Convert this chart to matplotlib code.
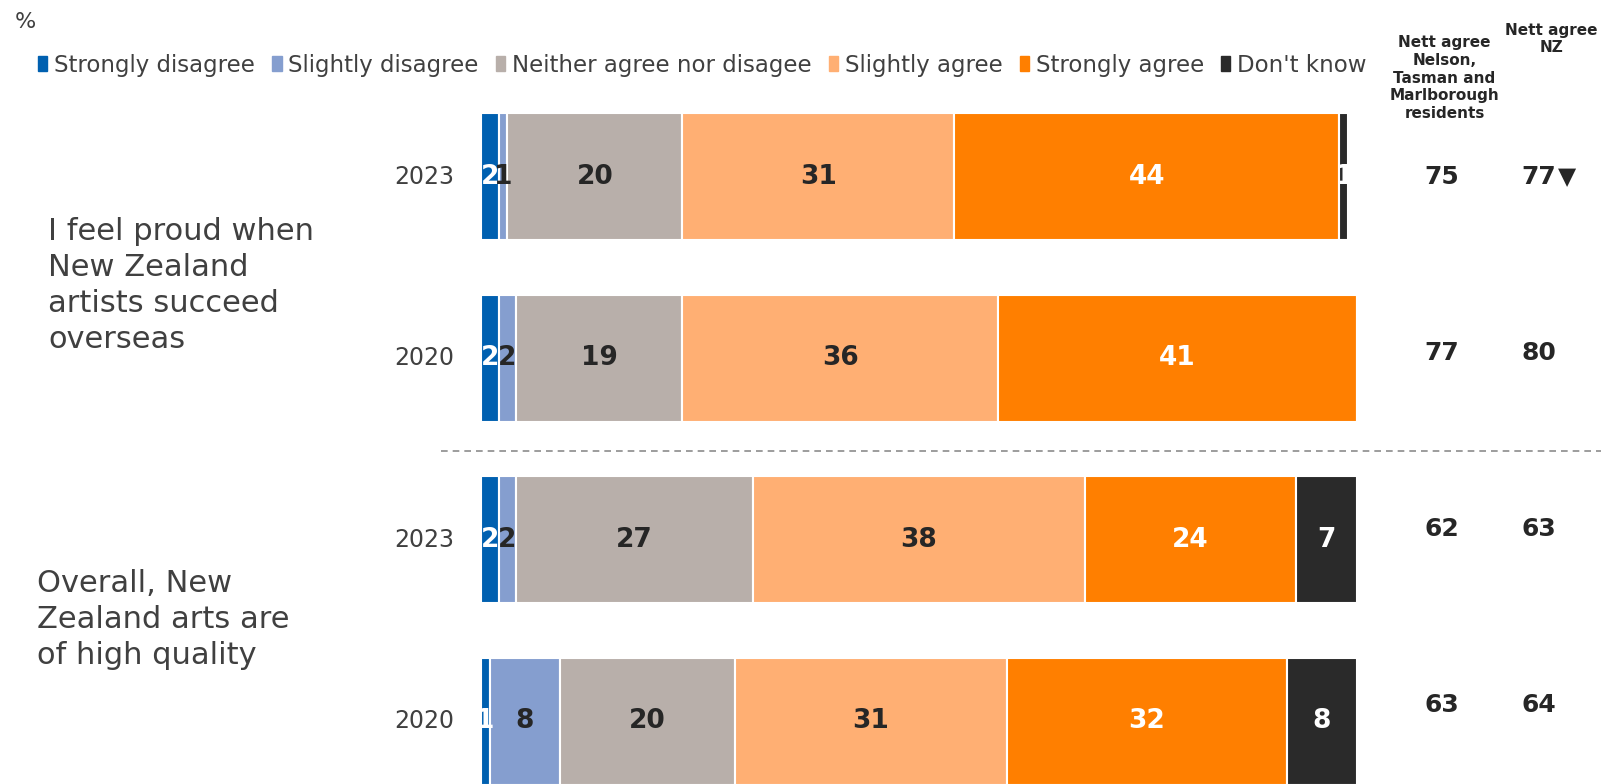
import numpy as np
import matplotlib
matplotlib.use("Agg")
import matplotlib.pyplot as plt
from matplotlib.patches import Rectangle

plt.rcParams["font.family"] = ["DejaVu Sans"]

# ---------- data ----------
CATEGORIES = ["Strongly disagree", "Slightly disagree", "Neither agree nor disagee",
              "Slightly agree", "Strongly agree", "Don't know"]
COLORS = ["#0060B0", "#859ECF", "#B8AFAA", "#FFAF73", "#FF7F00", "#2A2A2A"]
LABEL_COLORS = ["white", "#262626", "#262626", "#262626", "white", "white"]

YEARS = ["2023", "2020", "2023", "2020"]
strongly_disagree = [2, 2, 2, 1]
slightly_disagree = [1, 2, 2, 8]
neither = [20, 19, 27, 20]
slightly_agree = [31, 36, 38, 31]
strongly_agree = [44, 41, 24, 32]
dont_know = [1, 0, 7, 8]

nett_region = ["75", "77", "62", "63"]
nett_nz = ["77", "80", "63", "64"]
nz_sig_down = [True, False, False, False]

STATEMENTS = ["I feel proud when\nNew Zealand\nartists succeed\noverseas",
              "Overall, New\nZealand arts are\nof high quality"]

series = [strongly_disagree, slightly_disagree, neither,
          slightly_agree, strongly_agree, dont_know]

TXT = "#404040"
DARK = "#262626"

# ---------- figure ----------
fig = plt.figure(figsize=(16.01, 7.84), dpi=100)
ax = fig.add_axes([481 / 1601, 0.0, 876 / 1601, 684 / 784])

y = np.arange(len(YEARS))
left = np.zeros(len(YEARS))
for vals, col, lcol in zip(series, COLORS, LABEL_COLORS):
    vals = np.array(vals, dtype=float)
    ax.barh(y, vals, left=left, height=0.70, color=col,
            edgecolor="white", linewidth=1.5)
    for yi, v, l in zip(y, vals, left):
        if v > 0:
            ax.text(l + v / 2, yi, f"{v:.0f}", ha="center", va="center",
                    fontsize=19, fontweight="bold", color=lcol)
    left += vals

ax.set_xlim(0, 100)
ax.set_ylim(3.345, -0.424)
ax.axis("off")

# year labels
for yi, yr in zip(y, YEARS):
    ax.text(-3.0, yi, yr, ha="right", va="center", fontsize=17, color=TXT)

# nett agree columns
for yi, a, b, sig in zip(y, nett_region, nett_nz, nz_sig_down):
    yy = yi * 0.97
    ax.text(109.7, yy, a, ha="center", va="center", fontsize=18,
            fontweight="bold", color=DARK, clip_on=False)
    ax.text(120.8, yy, b, ha="center", va="center", fontsize=18,
            fontweight="bold", color=DARK, clip_on=False)
    if sig:
        ax.text(122.9, yy, "\u25BC", ha="left", va="center", fontsize=17,
                color=DARK, clip_on=False)

ax.text(110.0, -0.545, "Nett agree\nNelson,\nTasman and\nMarlborough\nresidents",
        ha="center", va="center", fontsize=11, fontweight="bold",
        color=DARK, linespacing=1.22, clip_on=False)
ax.text(122.2, -0.76, "Nett agree\nNZ", ha="center", va="center",
        fontsize=11, fontweight="bold", color=DARK, linespacing=1.22,
        clip_on=False)

# statements
ax.text(-49.4, 0.60, STATEMENTS[0], ha="left", va="center", fontsize=22,
        color=TXT, linespacing=1.3, clip_on=False)
ax.text(-50.7, 2.44, STATEMENTS[1], ha="left", va="center", fontsize=22,
        color=TXT, linespacing=1.3, clip_on=False)

# divider
ax.plot([-4.6, 128], [1.508, 1.508], linestyle=(0, (4, 3)), color="#8C8C8C",
        linewidth=1.2, clip_on=False)

# legend
handles = [Rectangle((0, 0), 1, 1, color=c) for c in COLORS]
fig.legend(handles, CATEGORIES, loc="center left", bbox_to_anchor=(0.011, 0.917),
           ncol=6, frameon=False, fontsize=16.5, handlelength=0.4,
           handleheight=0.6, handletextpad=0.3, columnspacing=0.75,
           labelcolor=TXT)

fig.text(0.009, 0.972, "%", ha="left", va="center", fontsize=16, color=TXT)

fig.savefig("out.png", dpi=100)
